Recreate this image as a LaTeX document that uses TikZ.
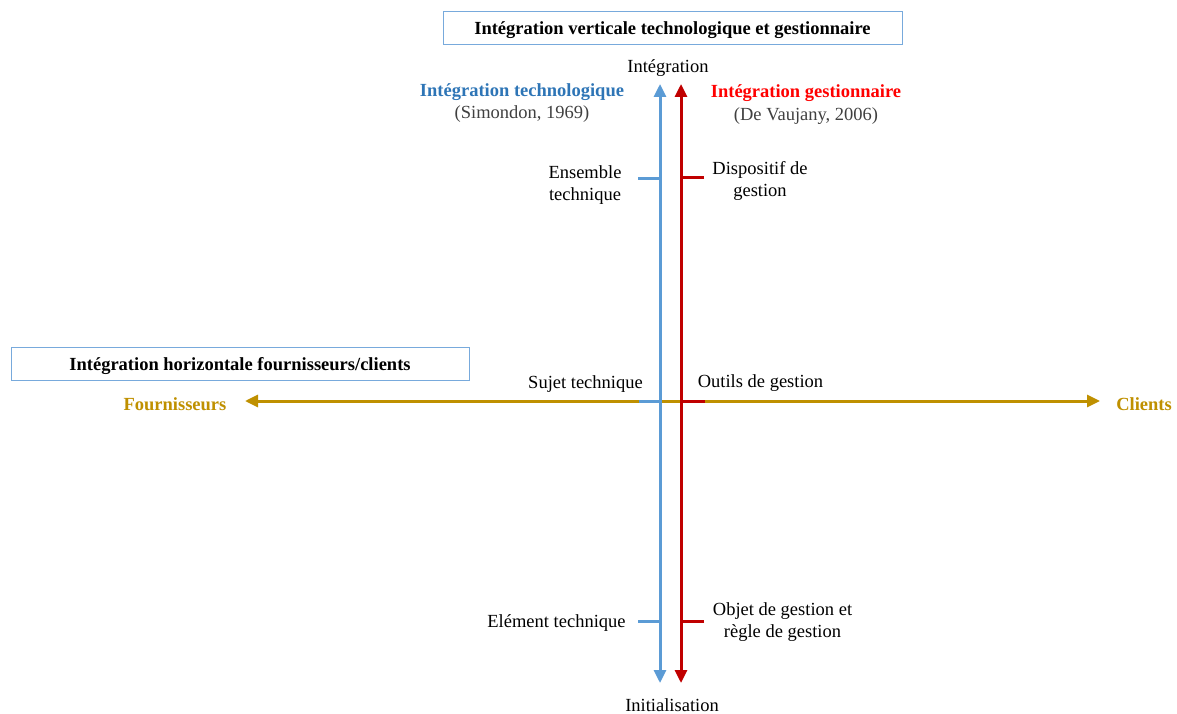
\documentclass[tikz,border=0pt]{standalone}
\usepackage{fontspec}
\setmainfont{Liberation Serif}
\usetikzlibrary{arrows.meta}
\definecolor{cblue}{RGB}{91,155,213}
\definecolor{cbluetxt}{RGB}{46,117,182}
\definecolor{cred}{RGB}{192,0,0}
\definecolor{credtxt}{RGB}{255,0,0}
\definecolor{cgold}{RGB}{191,144,0}
\definecolor{cbox}{RGB}{120,170,220}
\definecolor{cgrey}{RGB}{64,64,64}
\tikzset{
  lbl/.style={font=\fontsize{18.5}{22}\selectfont, inner sep=0pt, align=center, yshift=-2pt},
  blbl/.style={lbl, font=\fontsize{18.5}{22}\selectfont\bfseries},
  ttl/.style={draw=cbox, line width=0.8pt, inner sep=0pt, text height=16pt, text depth=2pt, font=\fontsize{18.5}{22}\selectfont\bfseries},
  ax/.style={line width=3pt},
  tips/.style={{Triangle[length=13pt,width=12pt]}-{Triangle[length=13pt,width=12pt]}},
}
\begin{document}
\begin{tikzpicture}[x=1pt,y=-1pt]
\useasboundingbox (0,0) rectangle (1177,714);
% title boxes
\node[ttl, minimum width=459pt, minimum height=33pt] (tv) at (672.5,27.5) {Intégration verticale technologique et gestionnaire};
\node[ttl, minimum width=458pt, minimum height=33pt] (th) at (240,363.5) {Intégration horizontale fournisseurs/clients};
% axis coordinates
\coordinate (hl) at (245,401);
\coordinate (hr) at (1100,401);
\coordinate (bt) at (660,84);
\coordinate (bb) at (660,683);
\coordinate (rt) at (681,84);
\coordinate (rb) at (681,683);
% horizontal axis
\draw[ax, cgold, tips] (hl) -- (hr);
\coordinate (bs) at (639,401);
\coordinate (rs) at (705,401);
\draw[ax, cblue] (bs) -- (bb |- bs);
\draw[ax, cred] (rb |- rs) -- (rs);
% ticks
\coordinate (b1) at (638,179);
\coordinate (b2) at (638,621);
\coordinate (r1) at (704,178);
\coordinate (r2) at (704,621);
\draw[ax, cblue] (b1) -- (bb |- b1);
\draw[ax, cblue] (b2) -- (bb |- b2);
\draw[ax, cred] (r1) -- (rb |- r1);
\draw[ax, cred] (r2) -- (rb |- r2);
% vertical axes
\draw[ax, cblue, tips] (bb) -- (bt);
\draw[ax, cred, tips] (rb) -- (rt);
% labels
\node[lbl] (integ) at (668,66) {Intégration};
\node[lbl] (init) at (672,703) {Initialisation};
\node[blbl, text=cbluetxt] (itech) at (522,90) {Intégration technologique};
\node[lbl, text=cgrey] (simon) at (522,112) {(Simondon, 1969)};
\node[blbl, text=credtxt] (igest) at (806,91) {Intégration gestionnaire};
\node[lbl, text=cgrey] (vauj) at (806,114) {(De Vaujany, 2006)};
\node[lbl] (ens) at (585,183) {Ensemble\\technique};
\node[lbl] (disp) at (760,179) {Dispositif de\\gestion};
\node[lbl] (sujet) at (585.5,382) {Sujet technique};
\node[lbl] (outils) at (760.5,381) {Outils de gestion};
\node[blbl, text=cgold] (four) at (175,402) {Fournisseurs};
\node[blbl, text=cgold] (cli) at (1144,402) {Clients};
\node[lbl] (elem) at (556.5,621) {Elément technique};
\node[lbl] (obj) at (782.5,620) {Objet de gestion et\\règle de gestion};
\end{tikzpicture}
\end{document}
